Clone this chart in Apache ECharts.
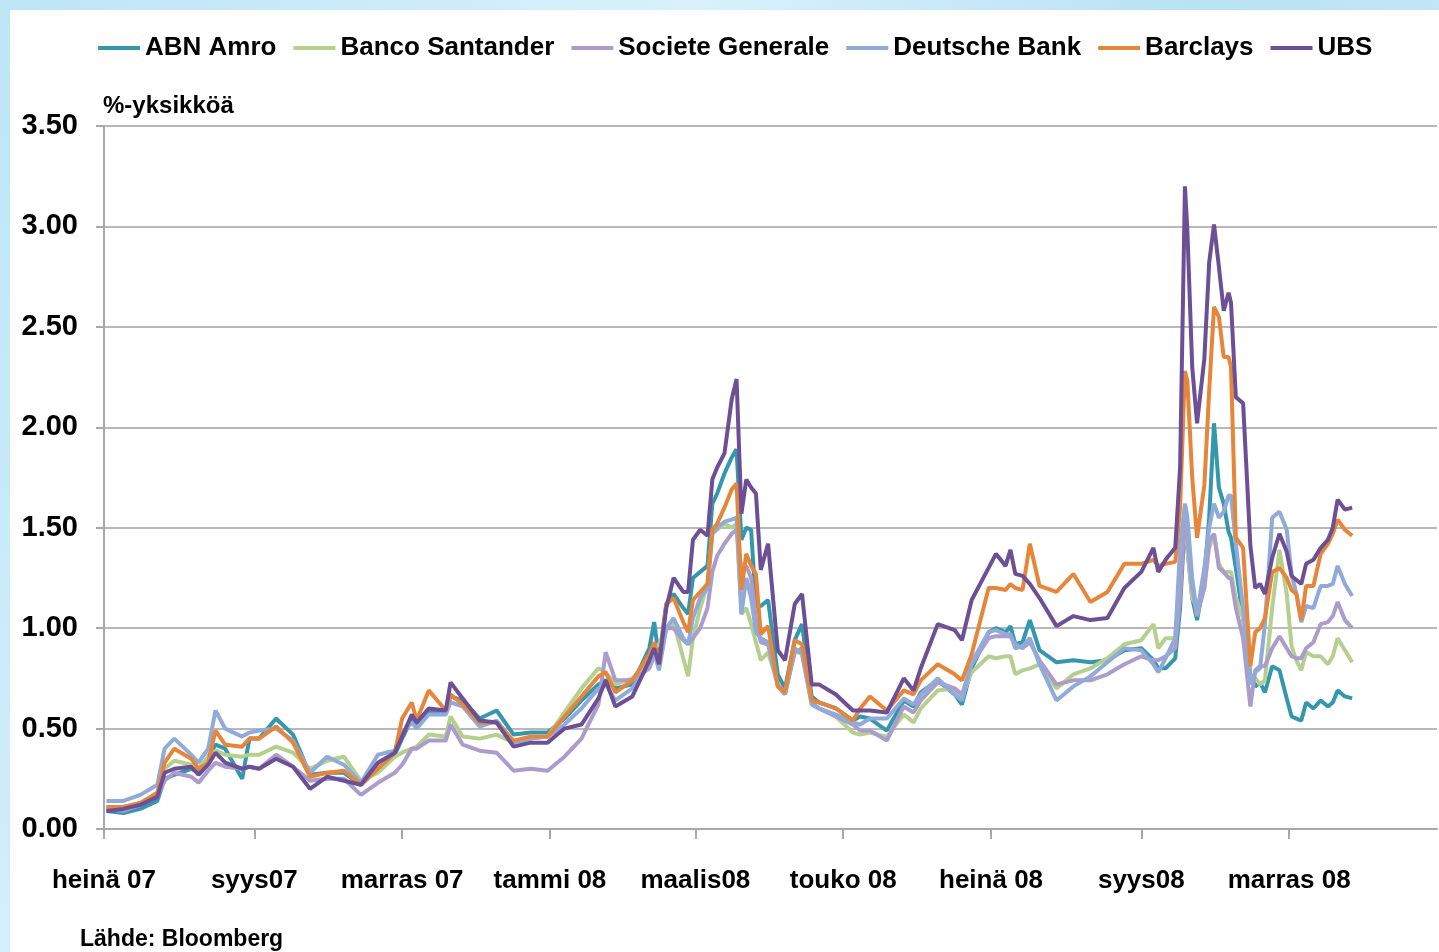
<!DOCTYPE html>
<html>
<head>
<meta charset="utf-8">
<title>CDS</title>
<script src="https://cdn.jsdelivr.net/npm/echarts@6/dist/echarts.min.js"></script>
<style>
  html, body { margin: 0; padding: 0; width: 1439px; height: 952px; overflow: hidden; }
  body { background: linear-gradient(120deg, #bde5f6 0%, #d8f1fb 35%, #b9e2f5 60%, #d3eefa 100%); position: relative; }
  #panel { position: absolute; left: 10px; top: 10px; right: 0; bottom: 0; background: #fff; }
  #main { position: absolute; left: 0; top: 0; width: 1439px; height: 952px; }
</style>
</head>
<body>
<div id="panel"></div>
<div id="main"></div>
<script>
var dates = [
  '2007-07-02','2007-07-09','2007-07-16','2007-07-23','2007-07-26','2007-07-30','2007-08-06','2007-08-09','2007-08-13','2007-08-16',
  '2007-08-20','2007-08-27','2007-08-30','2007-09-03','2007-09-10','2007-09-17','2007-09-24','2007-10-01','2007-10-08','2007-10-15',
  '2007-10-22','2007-10-29','2007-11-01','2007-11-05','2007-11-07','2007-11-12','2007-11-19','2007-11-21','2007-11-26','2007-12-03',
  '2007-12-10','2007-12-17','2007-12-24','2007-12-31','2008-01-07','2008-01-14','2008-01-21','2008-01-24','2008-01-28','2008-02-04',
  '2008-02-11','2008-02-13','2008-02-15','2008-02-18','2008-02-21','2008-02-25','2008-02-27','2008-02-29','2008-03-03','2008-03-06',
  '2008-03-08','2008-03-10','2008-03-13','2008-03-16','2008-03-18','2008-03-20','2008-03-22','2008-03-24','2008-03-26','2008-03-28',
  '2008-03-31','2008-04-04','2008-04-07','2008-04-11','2008-04-14','2008-04-18','2008-04-21','2008-04-28','2008-05-05','2008-05-08',
  '2008-05-12','2008-05-19','2008-05-26','2008-05-30','2008-06-02','2008-06-09','2008-06-16','2008-06-19','2008-06-23','2008-06-30',
  '2008-07-03','2008-07-07','2008-07-09','2008-07-11','2008-07-14','2008-07-17','2008-07-21','2008-07-28','2008-08-04','2008-08-11',
  '2008-08-18','2008-08-25','2008-09-01','2008-09-06','2008-09-08','2008-09-11','2008-09-15','2008-09-17','2008-09-19','2008-09-20',
  '2008-09-22','2008-09-24','2008-09-27','2008-09-29','2008-10-01','2008-10-03','2008-10-05','2008-10-07','2008-10-08','2008-10-10',
  '2008-10-13','2008-10-16','2008-10-18','2008-10-20','2008-10-22','2008-10-25','2008-10-28','2008-10-31','2008-11-02','2008-11-04',
  '2008-11-06','2008-11-08','2008-11-11','2008-11-14','2008-11-17','2008-11-19','2008-11-21','2008-11-24','2008-11-27'
];

var abnAmro = [
  0.09,0.08,0.10,0.14,0.25,0.27,0.30,0.28,0.36,0.42,
  0.40,0.25,0.45,0.45,0.55,0.47,0.27,0.28,0.28,0.22,
  0.30,0.37,0.45,0.55,0.52,0.58,0.59,0.66,0.64,0.55,
  0.59,0.47,0.48,0.48,0.55,0.64,0.72,0.74,0.70,0.72,
  0.90,1.03,0.85,1.12,1.17,1.10,1.07,1.25,1.28,1.31,
  1.62,1.67,1.77,1.85,1.89,1.44,1.50,1.49,1.11,1.11,
  1.14,0.77,0.70,0.94,1.02,0.66,0.63,0.60,0.54,0.56,
  0.55,0.49,0.64,0.61,0.68,0.74,0.67,0.62,0.80,0.98,
  1.00,0.98,1.01,0.92,0.93,1.04,0.89,0.83,0.84,0.83,
  0.84,0.89,0.90,0.84,0.80,0.80,0.85,1.10,1.55,1.40,
  1.15,1.04,1.25,1.55,2.02,1.70,1.62,1.48,1.45,1.30,
  1.05,0.77,0.71,0.73,0.68,0.81,0.79,0.65,0.56,0.55,
  0.54,0.63,0.60,0.64,0.61,0.63,0.69,0.66,0.65
];
var bancoSantander = [
  0.11,0.11,0.13,0.17,0.30,0.34,0.32,0.30,0.36,0.39,
  0.37,0.36,0.37,0.37,0.41,0.38,0.30,0.34,0.36,0.24,
  0.28,0.36,0.38,0.40,0.41,0.47,0.46,0.56,0.46,0.45,
  0.47,0.43,0.45,0.46,0.58,0.70,0.80,0.78,0.72,0.75,
  0.84,0.90,0.92,1.00,1.03,0.85,0.76,0.95,1.10,1.22,
  1.47,1.49,1.52,1.50,1.52,1.07,1.10,1.02,0.93,0.84,
  0.88,0.72,0.67,0.88,0.88,0.62,0.60,0.56,0.48,0.47,
  0.48,0.46,0.57,0.53,0.60,0.69,0.70,0.66,0.78,0.86,
  0.85,0.86,0.86,0.77,0.79,0.80,0.82,0.70,0.77,0.80,
  0.85,0.92,0.94,1.02,0.90,0.95,0.95,1.25,1.58,1.40,
  1.15,1.10,1.20,1.40,1.47,1.32,1.28,1.28,1.28,1.15,
  1.05,0.75,0.75,0.72,0.74,1.10,1.39,1.17,0.91,0.84,
  0.79,0.88,0.86,0.86,0.82,0.86,0.95,0.89,0.83
];
var societeGenerale = [
  0.10,0.09,0.12,0.16,0.24,0.28,0.26,0.23,0.29,0.33,
  0.31,0.30,0.31,0.30,0.37,0.31,0.24,0.25,0.25,0.17,
  0.23,0.28,0.32,0.40,0.40,0.44,0.44,0.52,0.42,0.39,
  0.38,0.29,0.30,0.29,0.36,0.45,0.62,0.88,0.74,0.74,
  0.80,0.86,0.82,1.00,1.00,0.94,0.92,0.95,1.00,1.10,
  1.28,1.36,1.42,1.47,1.49,1.29,1.31,1.25,1.05,0.93,
  0.92,0.72,0.68,0.88,0.90,0.63,0.60,0.56,0.52,0.49,
  0.49,0.44,0.61,0.58,0.64,0.73,0.70,0.67,0.82,0.95,
  0.96,0.96,0.96,0.92,0.90,0.93,0.84,0.72,0.74,0.74,
  0.77,0.82,0.86,0.84,0.84,0.86,0.90,1.15,1.60,1.45,
  1.20,1.06,1.20,1.43,1.47,1.30,1.28,1.25,1.25,1.10,
  0.95,0.61,0.79,0.81,0.81,0.90,0.96,0.90,0.86,0.85,
  0.85,0.90,0.93,1.02,1.03,1.06,1.13,1.04,1.00
];
var deutscheBank = [
  0.14,0.14,0.17,0.22,0.40,0.45,0.37,0.33,0.40,0.59,
  0.50,0.46,0.48,0.49,0.50,0.44,0.28,0.36,0.32,0.23,
  0.37,0.39,0.48,0.53,0.50,0.57,0.57,0.63,0.61,0.51,
  0.54,0.43,0.45,0.46,0.52,0.60,0.70,0.72,0.64,0.70,
  0.82,0.88,0.79,1.00,1.05,0.95,0.92,1.05,1.15,1.20,
  1.47,1.50,1.53,1.54,1.55,1.07,1.25,1.15,0.98,0.95,
  0.93,0.71,0.67,0.90,0.87,0.62,0.60,0.57,0.53,0.52,
  0.55,0.55,0.65,0.62,0.67,0.75,0.67,0.64,0.83,0.98,
  0.99,0.97,0.97,0.90,0.91,0.95,0.82,0.64,0.71,0.76,
  0.83,0.90,0.89,0.82,0.78,0.85,0.95,1.40,1.62,1.55,
  1.25,1.07,1.30,1.50,1.62,1.55,1.58,1.66,1.66,1.42,
  1.10,0.72,0.78,0.80,1.02,1.55,1.58,1.49,1.27,1.17,
  1.03,1.11,1.10,1.21,1.21,1.22,1.31,1.22,1.16
];
var barclays = [
  0.11,0.11,0.13,0.18,0.33,0.40,0.35,0.30,0.33,0.49,
  0.42,0.41,0.45,0.45,0.51,0.43,0.26,0.28,0.29,0.22,
  0.30,0.38,0.55,0.63,0.54,0.69,0.59,0.67,0.62,0.53,
  0.53,0.44,0.46,0.46,0.56,0.66,0.76,0.78,0.68,0.74,
  0.87,0.93,0.82,1.12,1.15,1.03,0.98,1.14,1.18,1.22,
  1.49,1.52,1.60,1.69,1.72,1.19,1.37,1.31,1.27,0.97,
  1.01,0.71,0.68,0.94,0.92,0.64,0.63,0.60,0.54,0.60,
  0.66,0.59,0.69,0.67,0.74,0.82,0.77,0.74,0.87,1.20,
  1.20,1.19,1.22,1.20,1.19,1.42,1.21,1.18,1.27,1.13,
  1.18,1.32,1.32,1.34,1.31,1.32,1.33,1.60,2.28,2.23,
  1.75,1.45,1.71,2.18,2.60,2.55,2.35,2.35,2.30,1.45,
  1.40,0.81,0.98,1.00,1.05,1.28,1.30,1.25,1.19,1.17,
  1.04,1.21,1.21,1.37,1.42,1.47,1.54,1.49,1.46
];
var ubs = [
  0.09,0.10,0.12,0.16,0.28,0.30,0.31,0.27,0.32,0.38,
  0.33,0.30,0.31,0.30,0.35,0.31,0.20,0.26,0.24,0.22,
  0.33,0.38,0.46,0.57,0.53,0.60,0.59,0.73,0.65,0.54,
  0.53,0.41,0.43,0.43,0.50,0.52,0.65,0.74,0.61,0.66,
  0.84,0.90,0.82,1.10,1.25,1.18,1.18,1.44,1.49,1.46,
  1.74,1.80,1.87,2.14,2.24,1.57,1.74,1.70,1.67,1.29,
  1.42,0.89,0.84,1.12,1.17,0.72,0.72,0.67,0.59,0.59,
  0.59,0.58,0.75,0.69,0.80,1.02,0.99,0.94,1.14,1.30,
  1.37,1.31,1.39,1.27,1.26,1.22,1.15,1.01,1.06,1.04,
  1.05,1.20,1.28,1.40,1.28,1.34,1.40,1.80,3.20,2.98,
  2.30,2.02,2.34,2.82,3.01,2.80,2.58,2.67,2.62,2.15,
  2.12,1.41,1.20,1.22,1.17,1.35,1.47,1.38,1.26,1.24,
  1.22,1.32,1.34,1.40,1.44,1.50,1.64,1.59,1.60
];

var seriesNames = ['ABN Amro', 'Banco Santander', 'Societe Generale', 'Deutsche Bank', 'Barclays', 'UBS'];
var seriesColors = ['#3497ad', '#b5d08e', '#ab9ccb', '#90abd9', '#e6863a', '#6c4f95'];
var tickMonths = ['2007-07-01','2007-09-01','2007-11-01','2008-01-01','2008-03-01','2008-05-01','2008-07-01','2008-09-01','2008-11-01'];
var tickLabels = ['heinä 07','syys07','marras 07','tammi 08','maalis08','touko 08','heinä 08','syys08','marras 08'];
var axisEnd = '2009-01-01';

var FONT = 'Liberation Sans, Arial, sans-serif';

function dayOf(s) {
  var p = s.split('-');
  return (Date.UTC(+p[0], +p[1] - 1, +p[2]) - Date.UTC(2007, 6, 1)) / 86400000;
}

function pairs(vals) {
  var out = [];
  for (var i = 0; i < dates.length; i++) {
    out.push([dayOf(dates[i]), vals[i]]);
  }
  return out;
}

var tickDays = tickMonths.map(dayOf);
var allValues = [abnAmro, bancoSantander, societeGenerale, deutscheBank, barclays, ubs];

var series = [];
for (var s = 0; s < seriesNames.length; s++) {
  series.push({
    name: seriesNames[s],
    type: 'line',
    data: pairs(allValues[s]),
    showSymbol: false,
    symbol: 'none',
    color: seriesColors[s],
    lineStyle: { width: 4, color: seriesColors[s] },
    z: 2 + s
  });
}

var myChart = echarts.init(document.getElementById('main'), null, { renderer: 'canvas' });

var option = {
  backgroundColor: 'transparent',
  animation: false,
  legend: {
    data: seriesNames,
    left: 93,
    top: 30,
    icon: 'rect',
    itemWidth: 42,
    itemHeight: 4,
    itemGap: 17,
    textStyle: { fontFamily: FONT, fontWeight: 'bold', fontSize: 26, color: '#000' }
  },
  grid: {
    left: 104,
    right: 2,
    top: 126,
    bottom: 123,
    outerBoundsMode: 'none'
  },
  xAxis: {
    type: 'value',
    min: 0,
    max: dayOf(axisEnd),
    splitLine: { show: false },
    axisLine: { lineStyle: { color: '#a8a8a8', width: 2 } },
    axisTick: {
      show: true,
      customValues: tickDays,
      length: 10,
      lineStyle: { color: '#a8a8a8', width: 2 }
    },
    axisLabel: {
      customValues: tickDays,
      margin: 39,
      fontFamily: FONT,
      fontWeight: 'bold',
      fontSize: 26,
      color: '#000',
      formatter: function (v) {
        var i = tickDays.indexOf(v);
        return i >= 0 ? tickLabels[i] : '';
      }
    }
  },
  yAxis: {
    type: 'value',
    min: 0,
    max: 3.5,
    interval: 0.5,
    axisLine: { show: true, lineStyle: { color: '#a8a8a8', width: 2 } },
    axisTick: { show: true, length: 8, lineStyle: { color: '#a8a8a8', width: 2 } },
    splitLine: { show: true, lineStyle: { color: '#b8b8b8', width: 2 } },
    axisLabel: {
      margin: 26,
      fontFamily: FONT,
      fontWeight: 'bold',
      fontSize: 29,
      color: '#000',
      formatter: function (v) { return v.toFixed(2); }
    }
  },
  graphic: [
    {
      type: 'text',
      left: 103,
      top: 94,
      style: { text: '%-yksikköä', fontFamily: FONT, fontWeight: 'bold', fontSize: 24, fill: '#000' }
    },
    {
      type: 'text',
      left: 80,
      top: 928,
      style: { text: 'Lähde: Bloomberg', fontFamily: FONT, fontWeight: 'bold', fontSize: 23, fill: '#000' }
    }
  ],
  series: series
};

option && myChart.setOption(option);
</script>
</body>
</html>
